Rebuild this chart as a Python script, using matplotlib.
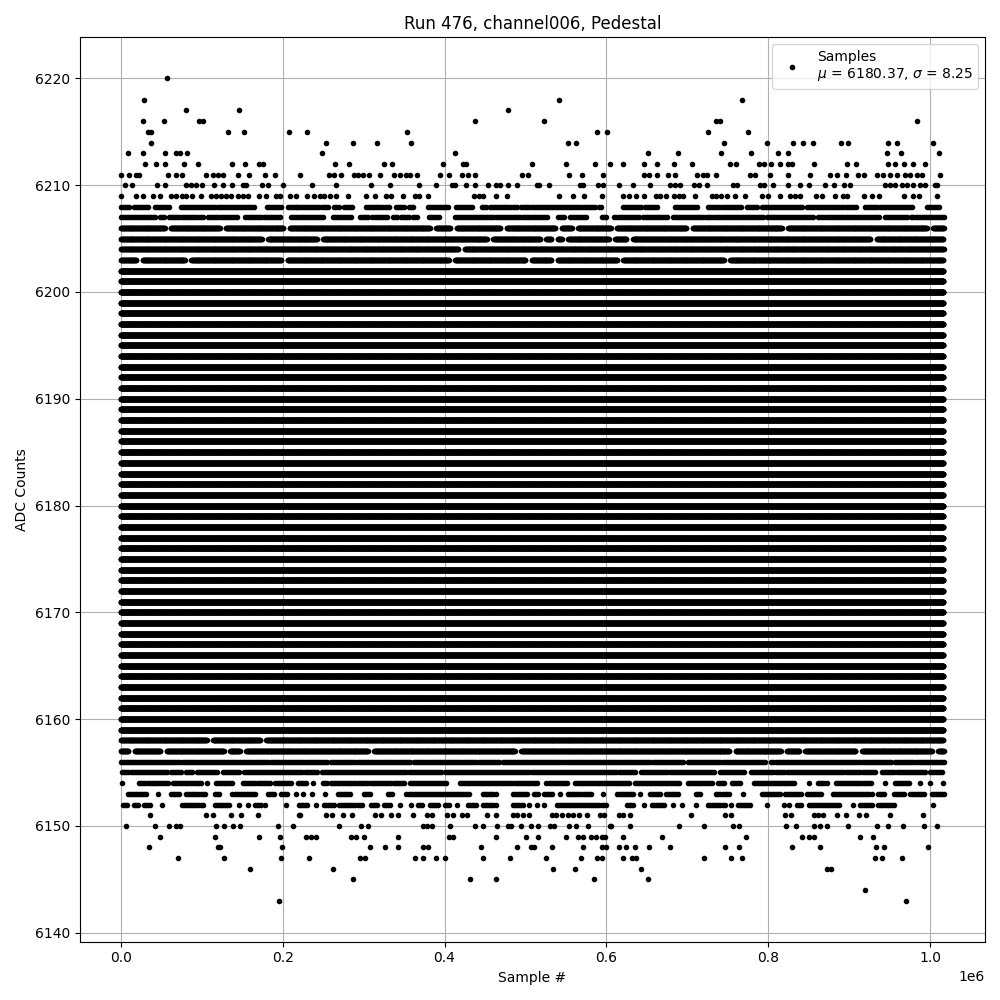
import matplotlib
matplotlib.use("Agg")
import matplotlib.pyplot as plt
import numpy as np

# sample axis is in units of 1e6 samples below
x_end = 1.0165

# levels that are filled along the whole run
full_levels = list(range(6159, 6203))

# almost full levels, with the few holes seen in the picture (centres of holes)
gaps_6206 = [0.058, 0.126, 0.205, 0.386, 0.411, 0.473, 0.541, 0.561, 0.609, 0.703, 0.821, 1.000]
gaps_6205 = [0.178, 0.246, 0.456, 0.522, 0.536, 0.549, 0.607, 0.629, 0.930]
gaps_6204 = [0.421]
gaps_6203 = [0.023, 0.083, 0.202, 0.409, 0.504, 0.536, 0.617, 0.749]
gaps_6158 = [0.110, 0.176]
gaps_6157 = [0.013, 0.053, 0.131, 0.151, 0.309, 0.491, 0.756, 0.819, 0.842, 0.912, 1.006]

# partly filled levels, as runs (start, end)
seg_6208 = [(0.000, 0.009), (0.016, 0.033), (0.042, 0.060), (0.074, 0.110), (0.112, 0.165),
            (0.181, 0.198), (0.206, 0.217), (0.218, 0.256), (0.264, 0.268), (0.276, 0.287),
            (0.303, 0.324), (0.327, 0.333), (0.340, 0.351), (0.356, 0.361), (0.379, 0.403),
            (0.414, 0.435), (0.446, 0.451), (0.456, 0.481), (0.485, 0.491), (0.495, 0.539),
            (0.543, 0.586), (0.591, 0.594), (0.620, 0.642), (0.648, 0.664), (0.685, 0.712),
            (0.726, 0.767), (0.774, 0.786), (0.792, 0.841), (0.848, 0.907), (0.920, 0.977),
            (0.996, 1.010)]
seg_6207 = [(0.000, 0.042), (0.048, 0.052), (0.060, 0.093), (0.097, 0.101), (0.108, 0.120),
            (0.124, 0.143), (0.153, 0.173), (0.177, 0.198), (0.210, 0.250), (0.262, 0.285),
            (0.295, 0.305), (0.311, 0.328), (0.336, 0.342), (0.346, 0.355), (0.361, 0.365),
            (0.381, 0.394), (0.413, 0.477), (0.481, 0.493), (0.497, 0.526), (0.540, 0.547),
            (0.555, 0.576), (0.594, 0.600), (0.610, 0.639), (0.645, 0.676), (0.682, 0.697),
            (0.700, 0.730), (0.734, 0.794), (0.798, 0.856), (0.862, 0.936), (0.944, 0.971),
            (0.977, 1.016)]
seg_6156 = [(0.000, 0.254), (0.260, 0.357), (0.362, 0.467), (0.472, 0.695), (0.701, 0.796),
            (0.804, 0.952), (0.957, 1.016)]
seg_6155 = [(0.002, 0.058), (0.062, 0.075), (0.081, 0.089), (0.094, 0.120), (0.126, 0.147),
            (0.152, 0.241), (0.248, 0.396), (0.400, 0.635), (0.643, 0.734), (0.740, 0.771),
            (0.779, 0.819), (0.823, 0.905), (0.909, 0.932), (0.941, 0.994), (1.000, 1.016)]
seg_6154 = [(0.002, 0.002), (0.023, 0.058), (0.064, 0.099), (0.107, 0.107), (0.118, 0.138),
            (0.151, 0.165), (0.169, 0.184), (0.190, 0.210), (0.219, 0.229), (0.237, 0.237),
            (0.250, 0.256), (0.260, 0.305), (0.309, 0.334), (0.338, 0.351), (0.357, 0.403),
            (0.419, 0.514), (0.526, 0.551), (0.561, 0.629), (0.635, 0.691), (0.701, 0.732),
            (0.738, 0.745), (0.755, 0.765), (0.782, 0.833), (0.850, 0.850), (0.862, 0.872),
            (0.884, 0.926), (0.944, 0.944), (0.957, 0.975), (0.988, 0.988), (1.000, 1.000),
            (1.016, 1.016)]
seg_6153 = [(0.009, 0.031), (0.046, 0.046), (0.062, 0.073), (0.081, 0.103), (0.116, 0.122),
            (0.138, 0.165), (0.182, 0.190), (0.198, 0.206), (0.217, 0.217), (0.225, 0.225),
            (0.236, 0.236), (0.252, 0.252), (0.268, 0.283), (0.301, 0.309), (0.330, 0.336),
            (0.353, 0.431), (0.448, 0.464), (0.485, 0.503), (0.510, 0.516), (0.523, 0.534),
            (0.543, 0.543), (0.553, 0.580), (0.596, 0.596), (0.613, 0.633), (0.642, 0.642),
            (0.654, 0.666), (0.674, 0.689), (0.711, 0.716), (0.736, 0.751), (0.769, 0.769),
            (0.792, 0.815), (0.821, 0.840), (0.848, 0.866), (0.880, 0.924), (0.928, 0.928),
            (0.936, 0.944), (0.955, 0.967), (0.975, 0.992), (1.002, 1.016)]
seg_6152 = [(0.003, 0.008), (0.016, 0.022), (0.029, 0.037), (0.051, 0.051), (0.076, 0.102),
            (0.116, 0.134), (0.146, 0.146), (0.157, 0.157), (0.166, 0.174), (0.178, 0.178),
            (0.204, 0.204), (0.220, 0.230), (0.241, 0.241), (0.251, 0.264), (0.270, 0.298),
            (0.309, 0.317), (0.325, 0.333), (0.345, 0.345), (0.359, 0.359), (0.367, 0.371),
            (0.382, 0.392), (0.401, 0.407), (0.416, 0.416), (0.429, 0.438), (0.448, 0.462),
            (0.485, 0.497), (0.504, 0.504), (0.514, 0.514), (0.523, 0.523), (0.539, 0.600),
            (0.625, 0.633), (0.646, 0.646), (0.656, 0.670), (0.682, 0.682), (0.693, 0.693),
            (0.711, 0.711), (0.726, 0.745), (0.754, 0.754), (0.763, 0.778), (0.799, 0.799),
            (0.820, 0.820), (0.826, 0.826), (0.835, 0.839), (0.850, 0.887), (0.905, 0.905),
            (0.913, 0.928), (0.936, 0.955), (1.004, 1.004)]

# single samples far from the pedestal
dots_6220 = [0.057]
dots_6218 = [0.029, 0.542, 0.768]
dots_6217 = [0.080, 0.146, 0.479]
dots_6216 = [0.028, 0.053, 0.097, 0.101, 0.438, 0.523, 0.735, 0.741, 0.984]
dots_6215 = [0.033, 0.037, 0.133, 0.152, 0.208, 0.230, 0.354, 0.589, 0.601, 0.725, 0.775]
dots_6214 = [0.037, 0.253, 0.287, 0.316, 0.359, 0.552, 0.562, 0.745, 0.798, 0.830, 0.843,
             0.855, 0.890, 0.899, 0.948, 0.959, 1.004]
dots_6213 = [0.009, 0.028, 0.054, 0.068, 0.073, 0.082, 0.248, 0.413, 0.651, 0.689, 0.742,
             0.779, 0.812, 0.824, 0.947, 0.964, 1.011]
dots_6212 = [0.030, 0.044, 0.054, 0.078, 0.096, 0.138, 0.154, 0.171, 0.176, 0.265, 0.282,
             0.325, 0.335, 0.398, 0.423, 0.426, 0.508, 0.550, 0.586, 0.605, 0.620, 0.646,
             0.663, 0.683, 0.706, 0.753, 0.760, 0.788, 0.795, 0.803, 0.815, 0.824, 0.829,
             0.857, 0.897, 0.909, 0.948, 0.957, 0.968, 0.979, 0.994]
dots_6211 = [0.000, 0.010, 0.019, 0.022, 0.058, 0.068, 0.075, 0.105, 0.114, 0.120, 0.126,
             0.145, 0.159, 0.178, 0.190, 0.222, 0.257, 0.264, 0.272, 0.288, 0.293, 0.299,
             0.307, 0.320, 0.338, 0.345, 0.352, 0.357, 0.366, 0.395, 0.405, 0.421, 0.429,
             0.438, 0.496, 0.503, 0.554, 0.570, 0.596, 0.647, 0.653, 0.662, 0.676, 0.685,
             0.712, 0.719, 0.724, 0.736, 0.777, 0.784, 0.802, 0.824, 0.851, 0.876, 0.885,
             0.896, 0.911, 0.918, 0.934, 0.942, 0.951, 0.959, 0.969, 0.975, 0.984, 0.990,
             1.012]
dots_6210 = [0.005, 0.014, 0.045, 0.055, 0.080, 0.087, 0.093, 0.100, 0.115, 0.126, 0.137,
             0.151, 0.155, 0.175, 0.182, 0.200, 0.236, 0.266, 0.309, 0.333, 0.368, 0.389,
             0.409, 0.413, 0.426, 0.438, 0.454, 0.464, 0.469, 0.478, 0.489, 0.514, 0.517,
             0.529, 0.567, 0.571, 0.590, 0.596, 0.616, 0.633, 0.654, 0.678, 0.685, 0.691,
             0.708, 0.715, 0.724, 0.757, 0.762, 0.790, 0.795, 0.806, 0.824, 0.839, 0.850,
             0.870, 0.881, 0.894, 0.901, 0.944, 0.951, 0.957, 0.965, 0.971, 0.979, 0.987,
             0.994, 1.006, 1.009]
dots_6209 = [0.000, 0.019, 0.027, 0.040, 0.048, 0.062, 0.068, 0.075, 0.081, 0.088, 0.099,
             0.112, 0.118, 0.124, 0.130, 0.136, 0.145, 0.151, 0.157, 0.171, 0.180, 0.192,
             0.197, 0.209, 0.217, 0.230, 0.239, 0.246, 0.251, 0.258, 0.266, 0.281, 0.303,
             0.314, 0.328, 0.334, 0.349, 0.363, 0.369, 0.380, 0.436, 0.442, 0.448, 0.463,
             0.477, 0.542, 0.559, 0.572, 0.595, 0.621, 0.628, 0.636, 0.646, 0.661, 0.666,
             0.674, 0.684, 0.690, 0.695, 0.709, 0.731, 0.736, 0.742, 0.749, 0.759, 0.771,
             0.792, 0.800, 0.814, 0.827, 0.833, 0.839, 0.859, 0.866, 0.883, 0.893, 0.897,
             0.918, 0.928, 0.937, 0.968, 0.979, 0.986, 1.009]
dots_6151 = [0.036, 0.105, 0.114, 0.136, 0.149, 0.170, 0.220, 0.222, 0.254, 0.261, 0.274,
             0.286, 0.314, 0.321, 0.334, 0.342, 0.361, 0.378, 0.385, 0.403, 0.411, 0.421,
             0.428, 0.453, 0.464, 0.485, 0.489, 0.497, 0.505, 0.533, 0.538, 0.545, 0.552,
             0.559, 0.566, 0.576, 0.592, 0.597, 0.615, 0.621, 0.629, 0.704, 0.747, 0.754,
             0.821, 0.828, 0.856, 0.862, 0.868, 0.885, 0.896, 0.912, 0.921, 0.951, 0.991]
dots_6150 = [0.007, 0.042, 0.060, 0.068, 0.073, 0.118, 0.128, 0.139, 0.147, 0.194, 0.213,
             0.269, 0.297, 0.306, 0.373, 0.378, 0.384, 0.407, 0.438, 0.448, 0.465, 0.478,
             0.482, 0.495, 0.507, 0.516, 0.530, 0.535, 0.554, 0.563, 0.577, 0.604, 0.606,
             0.629, 0.690, 0.721, 0.757, 0.764, 0.822, 0.834, 0.857, 0.864, 0.872, 0.898,
             0.934, 0.948, 0.967, 0.992, 1.008]
dots_6149 = [0.049, 0.117, 0.171, 0.197, 0.229, 0.235, 0.241, 0.285, 0.291, 0.301, 0.342,
             0.405, 0.411, 0.463, 0.501, 0.515, 0.550, 0.565, 0.571, 0.581, 0.587, 0.594,
             0.598, 0.620, 0.669, 0.773, 0.842, 0.850, 0.857, 0.914, 0.929]
dots_6148 = [0.035, 0.120, 0.123, 0.199, 0.308, 0.327, 0.343, 0.373, 0.380, 0.445, 0.490,
             0.507, 0.510, 0.533, 0.571, 0.594, 0.600, 0.616, 0.624, 0.635, 0.653, 0.679,
             0.747, 0.764, 0.829, 0.864, 0.933, 0.943, 0.997]
dots_6147 = [0.071, 0.128, 0.198, 0.233, 0.295, 0.302, 0.363, 0.373, 0.389, 0.401, 0.448,
             0.481, 0.525, 0.569, 0.588, 0.594, 0.621, 0.632, 0.636, 0.721, 0.754, 0.768,
             0.932, 0.940, 0.965]
dots_6146 = [0.160, 0.262, 0.534, 0.561, 0.643, 0.873, 0.877]
dots_6145 = [0.287, 0.431, 0.464, 0.585, 0.651]
dots_6144 = [0.920]
dots_6143 = [0.196, 0.970]

title = "Run 476, channel006, Pedestal"
mean_adc = 6180.37
std_adc = 8.25


def runs_from_gaps(gaps, half_width=0.004):
    runs = []
    start = 0.0
    for g in sorted(gaps):
        runs.append((start, g - half_width))
        start = g + half_width
    runs.append((start, x_end))
    return runs


def fill_run(a, b, step):
    if b - a < step:
        return np.array([a, b]) if b > a else np.array([a])
    return np.arange(a, b + step / 2, step)


def main():
    xs, ys = [], []

    for level in full_levels:
        x = fill_run(0.0, x_end, 0.00025)
        xs.append(x)
        ys.append(np.full(x.size, level))

    near_full = {6206: gaps_6206, 6205: gaps_6205, 6204: gaps_6204,
                 6203: gaps_6203, 6158: gaps_6158, 6157: gaps_6157}
    for level, gaps in near_full.items():
        for a, b in runs_from_gaps(gaps):
            x = fill_run(a, b, 0.0006)
            xs.append(x)
            ys.append(np.full(x.size, level))

    partial = {6208: seg_6208, 6207: seg_6207, 6156: seg_6156, 6155: seg_6155,
               6154: seg_6154, 6153: seg_6153, 6152: seg_6152}
    for level, runs in partial.items():
        for a, b in runs:
            x = fill_run(a, b, 0.0025)
            xs.append(x)
            ys.append(np.full(x.size, level))

    sparse = {6220: dots_6220, 6218: dots_6218, 6217: dots_6217, 6216: dots_6216,
              6215: dots_6215, 6214: dots_6214, 6213: dots_6213, 6212: dots_6212,
              6211: dots_6211, 6210: dots_6210, 6209: dots_6209, 6151: dots_6151,
              6150: dots_6150, 6149: dots_6149, 6148: dots_6148, 6147: dots_6147,
              6146: dots_6146, 6145: dots_6145, 6144: dots_6144, 6143: dots_6143}
    for level, dots in sparse.items():
        x = np.array(dots)
        xs.append(x)
        ys.append(np.full(x.size, level))

    x_all = np.concatenate(xs) * 1e6
    y_all = np.concatenate(ys)

    fig, ax = plt.subplots(figsize=(10, 10), dpi=100)
    ax.plot(x_all, y_all, ".", color="black",
            label=f"Samples\n$\\mu$ = {mean_adc:.2f}, $\\sigma$ = {std_adc:.2f}")
    ax.set_title(title)
    ax.set_xlabel("Sample #")
    ax.set_ylabel("ADC Counts")
    ax.grid(True)
    ax.legend(loc="upper right")
    fig.tight_layout()
    fig.savefig("out.png")


if __name__ == "__main__":
    main()
